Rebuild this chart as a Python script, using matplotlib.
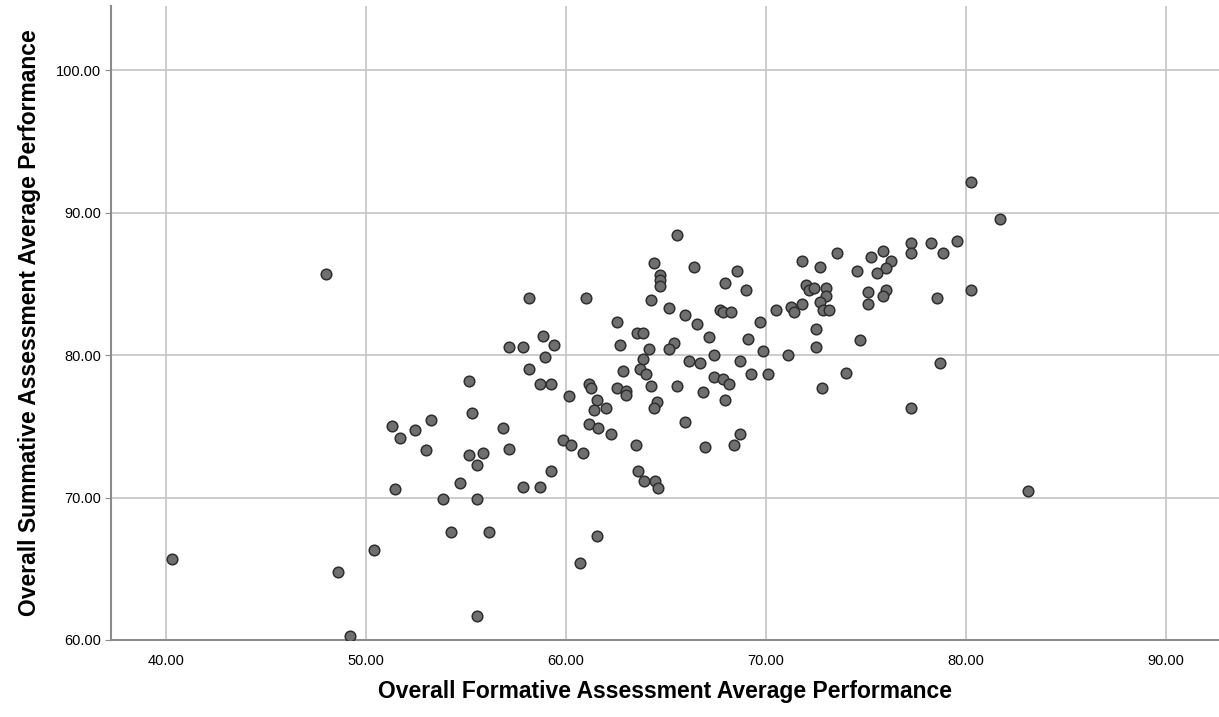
import matplotlib.pyplot as plt
import numpy as np

plt.rcParams['font.family'] = ['Liberation Sans', 'DejaVu Sans']

# Formative (x) vs summative (y) average performance per student
formative = [
    40.30, 48.00, 48.60, 49.20, 50.40, 55.55, 83.11, 81.70, 80.25, 80.25, 78.70, 77.25,
    58.84, 59.40, 57.13, 57.85, 62.69, 58.97, 58.14, 55.13, 58.72, 59.27, 60.14, 61.14,
    61.26, 62.85, 62.55, 63.00, 62.98, 61.57, 61.39, 62.01, 55.30, 53.27, 51.30, 52.43,
    51.72, 56.85, 61.14, 61.59, 62.27, 53.00, 57.13, 55.13, 55.85, 55.55, 59.84, 60.27,
    60.83, 63.52, 59.27, 54.72, 51.45, 57.85, 58.72, 53.85, 55.55, 54.27, 56.13, 61.55,
    60.69, 58.13,
    65.55, 64.42, 66.41, 68.56, 64.68, 64.68, 64.68, 67.97, 69.00, 61.00, 64.27, 65.14,
    65.97, 67.69, 67.84, 68.27, 70.50, 62.55, 66.56, 69.72, 63.55, 63.86, 67.14, 69.12,
    65.40, 65.14, 64.13, 69.84, 63.86, 66.14, 66.70, 67.41, 68.70, 69.26, 70.11, 63.68,
    63.98, 64.27, 65.55, 67.41, 67.84, 68.14, 66.84, 67.97, 64.56, 64.42, 65.97, 68.70,
    68.40, 66.97, 63.59, 63.89, 64.46, 64.59,
    71.81, 72.69, 73.54, 74.54, 75.23, 75.83, 76.27, 75.98, 75.53, 77.25, 77.25, 78.25,
    78.83, 79.53, 71.23, 71.41, 71.82, 72.00, 72.13, 72.40, 72.98, 72.98, 72.68, 72.83,
    73.14, 72.52, 72.52, 71.12, 74.68, 75.11, 75.11, 75.98, 75.83, 78.53, 73.99, 72.80,
]
summative = [
    65.70, 85.70, 64.80, 60.30, 66.30, 61.70, 70.45, 89.57, 92.17, 84.60, 79.45, 76.27,
    81.32, 80.74, 80.57, 80.57, 80.74, 79.87, 79.00, 78.16, 78.00, 78.00, 77.16, 78.00,
    77.72, 78.86, 77.72, 77.46, 77.18, 76.88, 76.13, 76.29, 75.90, 75.43, 75.00, 74.73,
    74.15, 74.85, 75.15, 74.85, 74.43, 73.32, 73.44, 72.97, 73.13, 72.27, 74.03, 73.72,
    73.13, 73.72, 71.87, 70.99, 70.57, 70.71, 70.71, 69.87, 69.87, 67.57, 67.57, 67.29,
    65.42, 84.00,
    88.45, 86.46, 86.16, 85.88, 85.60, 85.25, 84.87, 85.04, 84.57, 84.00, 83.86, 83.28,
    82.84, 83.16, 83.00, 83.00, 83.16, 82.30, 82.16, 82.30, 81.58, 81.58, 81.27, 81.16,
    80.88, 80.46, 80.46, 80.29, 79.75, 79.59, 79.45, 79.99, 79.59, 78.70, 78.70, 79.05,
    78.70, 77.86, 77.86, 78.47, 78.30, 78.00, 77.42, 76.85, 76.72, 76.29, 75.29, 74.44,
    73.72, 73.56, 71.86, 71.15, 71.15, 70.68,
    86.60, 86.16, 87.19, 85.90, 86.88, 87.30, 86.60, 86.13, 85.74, 87.89, 87.16, 87.89,
    87.16, 88.00, 83.37, 83.00, 83.56, 84.90, 84.60, 84.74, 84.74, 84.16, 83.74, 83.16,
    83.16, 81.86, 80.57, 80.00, 81.03, 84.43, 83.56, 84.60, 84.15, 84.04, 78.72, 77.72,
]

x_ticks = [40, 50, 60, 70, 80, 90]
y_ticks = [60, 70, 80, 90, 100]

fig = plt.figure(figsize=(12.19, 7.17), dpi=100)
ax = fig.add_axes([0.0911, 0.1074, 0.9089, 0.8842])

ax.scatter(formative, summative, s=58, facecolor='#6f6f6f', edgecolor='#2e2e2e',
           linewidths=1.1, zorder=3)

ax.set_xlim(37.25, 92.65)
ax.set_ylim(60, 104.5)
ax.set_xticks(x_ticks)
ax.set_yticks(y_ticks)
ax.set_xticklabels([f'{v:.2f}' for v in x_ticks])
ax.set_yticklabels([f'{v:.2f}' for v in y_ticks])

ax.grid(True, color='#c8c8c8', linewidth=1.3, zorder=0)
ax.set_axisbelow(True)
for side in ['top', 'right']:
    ax.spines[side].set_visible(False)
for side in ['left', 'bottom']:
    ax.spines[side].set_color('#8c8c8c')
    ax.spines[side].set_linewidth(1.5)

ax.tick_params(axis='y', length=4, color='#8c8c8c', labelsize=10.5, pad=3)
ax.tick_params(axis='x', length=0, labelsize=10.5, pad=10)

ax.set_xlabel('Overall Formative Assessment Average Performance',
              fontsize=16.5, fontweight='bold', labelpad=9)
ax.set_ylabel('Overall Summative Assessment Average Performance',
              fontsize=16.5, fontweight='bold', labelpad=11)

plt.savefig('out.png', dpi=100)
